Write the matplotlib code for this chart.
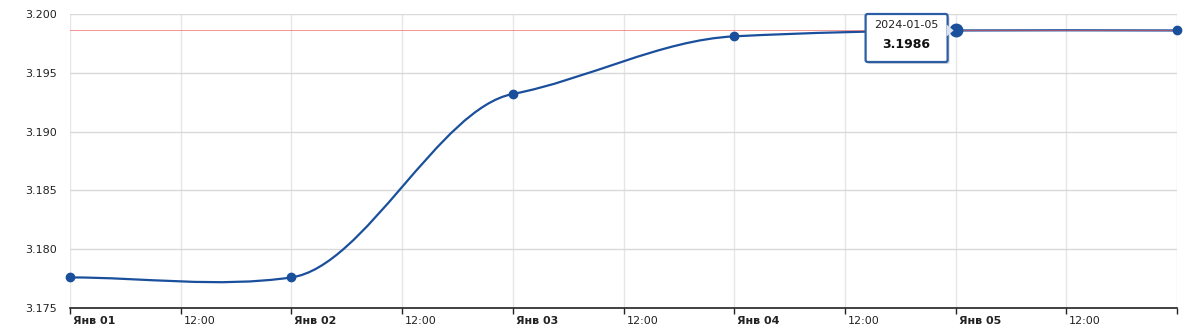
import numpy as np
import matplotlib
matplotlib.use('Agg')
import matplotlib.pyplot as plt
import matplotlib.transforms as mtransforms
from matplotlib.path import Path
from matplotlib.patches import PathPatch, FancyBboxPatch, Polygon
from matplotlib.transforms import IdentityTransform

# data
dates = ['2024-01-01', '2024-01-02', '2024-01-03', '2024-01-04', '2024-01-05', '2024-01-06']
rates = [3.1776, 3.1776, 3.1932, 3.1981, 3.1986, 3.1986]
day_labels = ['Янв 01', 'Янв 02', 'Янв 03', 'Янв 04', 'Янв 05']
ref_rate = 3.1986
hover_idx = 4

LINE = '#1a4f9c'
RED = '#ee5a5a'


def spline_path(xs, ys, k=0.35):
    # smooth line: cubic segments, tangents = k * central difference
    n = len(xs)
    m = [0.0] * n
    for i in range(1, n - 1):
        m[i] = k * (ys[i + 1] - ys[i - 1]) / (xs[i + 1] - xs[i - 1])
    verts = [(xs[0], ys[0])]
    codes = [Path.MOVETO]
    for i in range(1, n):
        h = (xs[i] - xs[i - 1]) / 3.0
        verts += [(xs[i - 1] + h, ys[i - 1] + m[i - 1] * h),
                  (xs[i] - h, ys[i] - m[i] * h),
                  (xs[i], ys[i])]
        codes += [Path.CURVE4] * 3
    return Path(verts, codes)


W, H = 1204, 333
fig = plt.figure(figsize=(W / 100, H / 100), dpi=100)
ax = fig.add_axes([70 / W, 1 - 308 / H, (1177 - 70) / W, (308 - 14) / H])

x = np.arange(len(dates), dtype=float)

ax.set_xlim(0, len(dates) - 1)
ax.set_ylim(3.175, 3.200)

# grid
ax.set_xticks(np.arange(0, len(dates) - 0.99, 0.5))
ax.set_yticks(np.arange(3.175, 3.2001, 0.005))
ax.grid(True, axis='x', color='#e6e6e6', lw=1)
ax.grid(True, axis='y', color='#d9d9d9', lw=1)
ax.set_axisbelow(True)

for s in ['top', 'right', 'left']:
    ax.spines[s].set_visible(False)
ax.spines['bottom'].set_color('#222222')
ax.spines['bottom'].set_linewidth(1.2)

ax.tick_params(axis='x', length=4, width=1, color='#222222', pad=2)
ax.tick_params(axis='y', length=0, pad=9.5)

ax.set_yticklabels([f'{v:.3f}' for v in ax.get_yticks()], fontsize=8, color='#222222')

xlabels = []
for i in range(len(ax.get_xticks())):
    if i % 2 == 0 and i // 2 < len(day_labels):
        xlabels.append(day_labels[i // 2])
    elif i % 2 == 1:
        xlabels.append('12:00')
    else:
        xlabels.append('')
ax.set_xticklabels(xlabels, fontsize=8, color='#222222', ha='left')
off = mtransforms.ScaledTranslation(3 / 100, 0, fig.dpi_scale_trans)
for i, t in enumerate(ax.get_xticklabels()):
    if i % 2 == 0:
        t.set_fontweight('bold')
    t.set_transform(t.get_transform() + off)

# series
ax.add_patch(PathPatch(spline_path(list(x), rates), fill=False, edgecolor=LINE, lw=1.6, zorder=3,
                       clip_on=False))
ax.axhline(ref_rate, color=RED, lw=0.6, zorder=4, alpha=0.75)
ax.plot(x, rates, 'o', color=LINE, ms=6, zorder=5, clip_on=False)
ax.plot(x[hover_idx], rates[hover_idx], 'o', color=LINE, ms=9, zorder=6, clip_on=False)

# tooltip
fig.canvas.draw()
px, py = ax.transData.transform((x[hover_idx], rates[hover_idx]))
bx0, bx1 = px - 90, px - 8
by1 = H - 14
by0 = H - 62
shadow = FancyBboxPatch((bx0 + 2, by0 - 2), bx1 - bx0, by1 - by0, boxstyle='round,pad=0,rounding_size=2',
                        transform=IdentityTransform(), facecolor='#bbbbbb', edgecolor='none',
                        alpha=0.6, zorder=7)
box = FancyBboxPatch((bx0, by0), bx1 - bx0, by1 - by0, boxstyle='round,pad=0,rounding_size=2',
                     transform=IdentityTransform(), facecolor='white', edgecolor='#2c5ea6',
                     lw=1.6, zorder=8)
arrow = Polygon([(bx1 - 1, py + 6), (bx1 - 1, py - 6), (px - 2, py)], closed=True,
                transform=IdentityTransform(), facecolor='#dde3ee', edgecolor='none', zorder=8)
fig.add_artist(shadow)
fig.add_artist(box)
fig.add_artist(arrow)
cx = (bx0 + bx1) / 2
fig.text(cx / W, (H - 25) / H, dates[hover_idx], ha='center', va='center', fontsize=8,
         color='#222222', zorder=9)
fig.text(cx / W, (H - 45) / H, f'{rates[hover_idx]:.4f}', ha='center', va='center', fontsize=9,
         fontweight='bold', color='#111111', zorder=9)

fig.savefig('out.png', dpi=100)
